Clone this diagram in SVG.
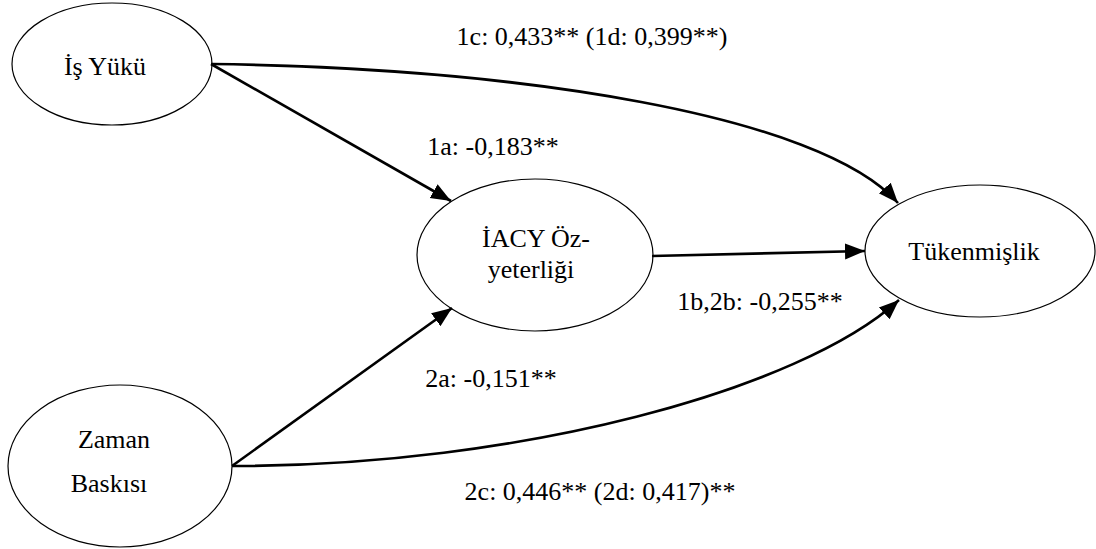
<svg xmlns="http://www.w3.org/2000/svg" width="1096" height="549" viewBox="0 0 1096 549">
<style>
.node ellipse{fill:#fff;stroke:#000;stroke-width:1.2}
text{font-family:"Liberation Serif","Times New Roman",serif;font-size:26px;fill:#000;text-anchor:middle}
.conn path{fill:none;stroke:#000;stroke-width:2.6;marker-end:url(#ah)}
</style>
<defs>
<marker id="ah" markerUnits="userSpaceOnUse" markerWidth="22" markerHeight="18" refX="20" refY="8" orient="auto" viewBox="0 0 22 16">
<path d="M0,0 L20,8 L0,16 Z" fill="#000"/>
</marker>
</defs>
<g id="n-isyuku" class="node"><ellipse cx="112" cy="64" rx="100" ry="61"/><text x="105" y="75">İş Yükü</text></g>
<g id="n-iacy" class="node"><ellipse cx="535" cy="255" rx="118" ry="76"/><text x="536" y="247">İACY Öz-</text><text x="531" y="278">yeterliği</text></g>
<g id="n-tuk" class="node"><ellipse cx="980" cy="251" rx="115" ry="66"/><text x="974" y="260">Tükenmişlik</text></g>
<g id="n-zaman" class="node"><ellipse cx="120" cy="466" rx="112" ry="81"/><text x="114" y="448">Zaman</text><text x="109" y="492">Baskısı</text></g>
<g id="connectors" class="conn">
<path d="M211,64 L451,201"/>
<path d="M211,64 C520,68 820,115 898,203"/>
<path d="M652,256 L865,251"/>
<path d="M232,466 L452,308"/>
<path d="M232,466 C520,466 800,390 899,300"/>
</g>
<g id="labels">
<text x="592" y="45">1c: 0,433** (1d: 0,399**)</text>
<text x="493" y="155">1a: -0,183**</text>
<text x="760" y="310">1b,2b: -0,255**</text>
<text x="491" y="387">2a: -0,151**</text>
<text x="600" y="500">2c: 0,446** (2d: 0,417)**</text>
</g>
</svg>
